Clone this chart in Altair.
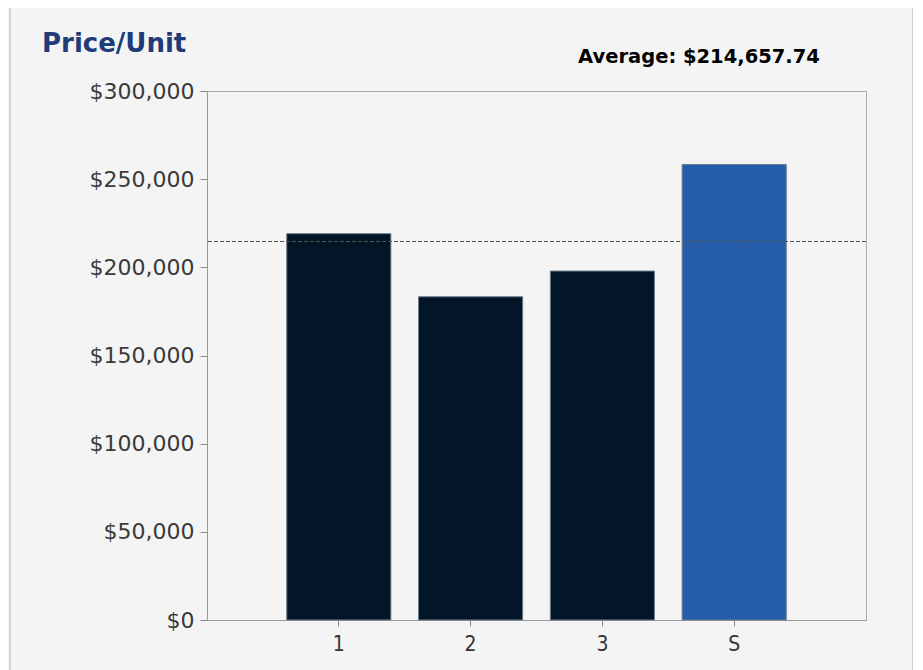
import altair as alt
import pandas as pd

categories = ["1", "2", "3", "S"]
prices = [219100, 183300, 197900, 258330.96]
bar_colors = ["#021627", "#021627", "#021627", "#265DAB"]
chart_title = "Price/Unit"

df = pd.DataFrame({"cat": categories, "price": prices, "color": bar_colors})

FONT = "DejaVu Sans"

x_enc = alt.X(
    "cat:N",
    sort=categories,
    title=None,
    scale=alt.Scale(paddingInner=0.21, paddingOuter=0.605),
    axis=alt.Axis(
        labelAngle=0, labelFontSize=21, labelColor="#333333",
        labelFont="DejaVu Sans Condensed",
        tickSize=6, tickColor="#888888", domainColor="#999999", labelPadding=7,
    ),
)
y_enc = alt.Y(
    "price:Q",
    title=None,
    scale=alt.Scale(domain=[0, 300000], nice=False),
    axis=alt.Axis(
        values=[0, 50000, 100000, 150000, 200000, 250000, 300000],
        format="$,.0f", labelFontSize=22, labelColor="#3a3a3a", labelFont=FONT,
        tickSize=7, tickColor="#888888", domainColor="#999999", grid=False,
        labelPadding=6,
    ),
)

base = alt.Chart(df)

frame = base.transform_aggregate(n="count()").mark_rect(
    fill="transparent", stroke="#d4d4d4", strokeWidth=2
).encode(
    x=alt.value(-197), x2=alt.value(706),
    y=alt.value(-84), y2=alt.value(600),
)

bars = base.mark_bar(stroke="#6f7d8c", strokeWidth=1).encode(
    x=x_enc,
    y=y_enc,
    color=alt.Color("color:N", scale=None),
)

avg_rule = base.transform_aggregate(avg="mean(price)").mark_rule(
    color="#555555", strokeDash=[4, 2], strokeWidth=1
).encode(y=alt.Y("avg:Q"))

avg_text = base.transform_aggregate(avg="mean(price)").transform_calculate(
    label="'Average: ' + format(datum.avg, '$,.2f')"
).mark_text(
    font=FONT, fontSize=19.5, fontWeight="bold", color="#000000",
    align="center", baseline="alphabetic",
).encode(
    text="label:N",
    x=alt.value(492),
    y=alt.value(-28),
)

title_text = base.transform_aggregate(n="count()").transform_calculate(
    t="'" + chart_title + "'"
).mark_text(
    font=FONT, fontSize=26, fontWeight="bold", color="#1d3c78",
    align="left", baseline="alphabetic",
).encode(
    text="t:N",
    x=alt.value(-165),
    y=alt.value(-39),
)

chart = alt.layer(frame, bars, avg_rule, avg_text, title_text).properties(
    width=659,
    height=529,
    autosize=alt.AutoSizeParams(type="none"),
    padding={"left": 199, "top": 83, "right": 47, "bottom": 50},
    background="#f4f4f4",
).configure_view(stroke="#aaaaaa", strokeWidth=1)

chart.save("out.html", embed_options={"renderer": "svg", "actions": False})
